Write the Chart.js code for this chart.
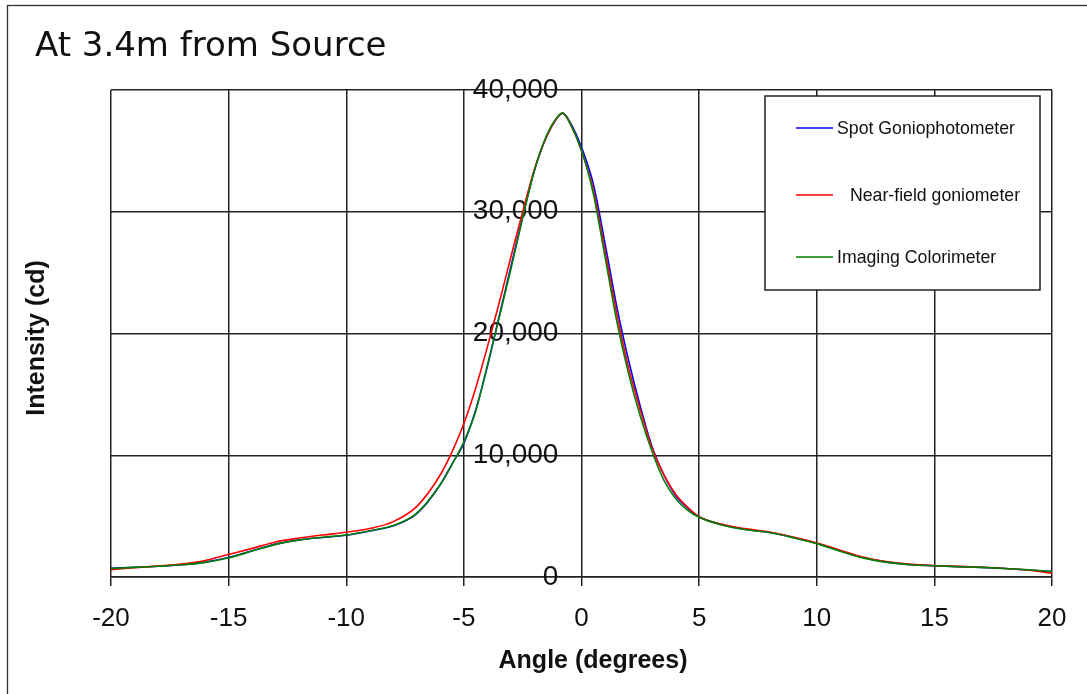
<!DOCTYPE html>
<html>
<head>
<meta charset="utf-8">
<script src="https://cdn.jsdelivr.net/npm/chart.js@4"></script>
<style>
  html, body { margin: 0; padding: 0; background: #fff; }
  #wrap { width: 1087px; height: 694px; position: relative; }
</style>
</head>
<body>
<div id="wrap"><canvas id="canvas1"></canvas></div>
<script>
const chartTitle = 'At 3.4m from Source';
const xTitle = 'Angle (degrees)';
const yTitle = 'Intensity (cd)';
const seriesNames = ['Spot Goniophotometer', 'Near-field goniometer', 'Imaging Colorimeter'];
const seriesColors = ['#0000ff', '#ff0000', '#008000'];

// angle in degrees
const angles = [-20, -19, -18, -17, -16, -15, -14, -13, -12, -11, -10, -9, -8, -7, -6, -5.5, -5, -4.5, -4, -3.5, -3, -2.5, -2, -1.5, -1, -0.8, -0.5,
    0, 0.5, 1, 1.5, 2, 2.5, 3, 3.5, 4, 4.5, 5, 6, 7, 8, 9, 10, 11, 12, 13, 14, 15, 16, 17, 18, 19, 20];

// intensity in cd
const spotGonio = [720, 800, 880, 1000, 1220, 1600, 2150, 2700, 3050, 3250, 3430, 3780, 4200, 5200, 7600, 9300, 11000, 13700, 17300, 21400, 25500, 29600, 33400, 36100, 37800, 38100, 37400,
    35300, 32300, 27400, 22200, 17800, 14000, 10700, 8400, 6700, 5700, 4950, 4300, 3900, 3650, 3250, 2770, 2150, 1580, 1220, 1020, 930, 850, 790, 700, 580, 440];
const nearField = [600, 760, 900, 1060, 1350, 1850, 2350, 2880, 3200, 3450, 3680, 3980, 4550, 5800, 8400, 10300, 12600, 15500, 18900, 22500, 26300, 30000, 33500, 36100, 37800, 38100, 37300,
    35000, 31800, 26800, 21600, 17200, 13700, 10600, 8400, 6800, 5750, 4950, 4300, 3950, 3700, 3280, 2800, 2200, 1620, 1250, 1050, 940, 870, 800, 700, 560, 300];
const imagingColor = [700, 790, 880, 1000, 1200, 1580, 2130, 2680, 3050, 3270, 3450, 3800, 4230, 5250, 7600, 9250, 11100, 13600, 17400, 21300, 25300, 29500, 33400, 36200, 37850, 38100, 37300,
    35050, 31500, 26300, 21000, 16700, 13200, 10300, 7950, 6450, 5500, 4900, 4250, 3880, 3650, 3230, 2740, 2120, 1550, 1200, 1000, 920, 850, 790, 700, 590, 450];

const allSeries = [spotGonio, nearField, imagingColor];
const drawOrder = [2, 1, 0]; // green on top, blue at the bottom

function toPoints(values) {
    return angles.map((a, i) => ({ x: a, y: values[i] }));
}

// frame, title, axis titles and the boxed legend
const decor = {
    id: 'decor',
    afterDraw(chart) {
        const c = chart.ctx;
        c.save();
        c.strokeStyle = '#333';
        c.lineWidth = 1.3;
        c.strokeRect(7.5, 5.5, 1300, 1300);

        c.fillStyle = '#111';
        c.font = '34px "DejaVu Sans"';
        c.textAlign = 'left';
        c.textBaseline = 'alphabetic';
        c.fillText(chartTitle, 35, 56);

        c.font = 'bold 25px "Liberation Sans", Arial';
        c.textAlign = 'center';
        c.textBaseline = 'middle';
        c.fillText(xTitle, 593, 661);
        c.save();
        c.translate(37, 338);
        c.rotate(-Math.PI / 2);
        c.fillText(yTitle, 0, 0);
        c.restore();

        // legend box
        c.fillStyle = '#fff';
        c.fillRect(765, 96, 275, 194);
        c.strokeStyle = '#222';
        c.lineWidth = 1.5;
        c.strokeRect(765, 96, 275, 194);
        const rows = [128, 195, 257];
        const textX = [837, 850, 837];
        c.font = '17.7px "Liberation Sans", Arial';
        c.textAlign = 'left';
        c.textBaseline = 'middle';
        seriesNames.forEach((name, i) => {
            c.strokeStyle = seriesColors[i];
            c.lineWidth = 1.5;
            c.beginPath();
            c.moveTo(796, rows[i]);
            c.lineTo(833, rows[i]);
            c.stroke();
            c.fillStyle = '#111';
            c.fillText(name, textX[i], rows[i] + 1);
        });
        c.restore();
    }
};

const ctx1 = document.getElementById('canvas1').getContext('2d');

const myChart1 = new Chart(ctx1, {
    type: 'line',
    data: {
        datasets: seriesNames.map((name, i) => ({
            label: name,
            data: toPoints(allSeries[i]),
            borderColor: seriesColors[i],
            backgroundColor: 'transparent',
            borderWidth: 1.6,
            pointRadius: 0,
            order: drawOrder[i],
            cubicInterpolationMode: 'monotone'
        }))
    },
    options: {
        responsive: true,
        maintainAspectRatio: false,
        animation: false,
        layout: { padding: { left: 111, right: 35, top: 90, bottom: 0 } },
        plugins: {
            legend: { display: false },
            title: { display: false },
            tooltip: { enabled: false }
        },
        scales: {
            x: {
                type: 'linear',
                min: -20,
                max: 20,
                afterFit: s => { s.height = 117; },
                ticks: {
                    stepSize: 5,
                    padding: 17,
                    color: '#111',
                    font: { family: '"Liberation Sans", Arial', size: 26 }
                },
                grid: { color: '#222', lineWidth: 1.5, tickLength: 9 },
                border: { color: '#222', width: 1.5 }
            },
            y: {
                // labels sit just left of the 0° line, like the original
                position: { x: -0.98 },
                min: 0,
                max: 40000,
                ticks: {
                    stepSize: 10000,
                    color: '#111',
                    font: { family: '"Liberation Sans", Arial', size: 28 }
                },
                grid: { color: '#222', lineWidth: 1.5, drawTicks: false },
                border: { display: false }
            }
        }
    },
    plugins: [decor]
});
</script>
</body>
</html>
